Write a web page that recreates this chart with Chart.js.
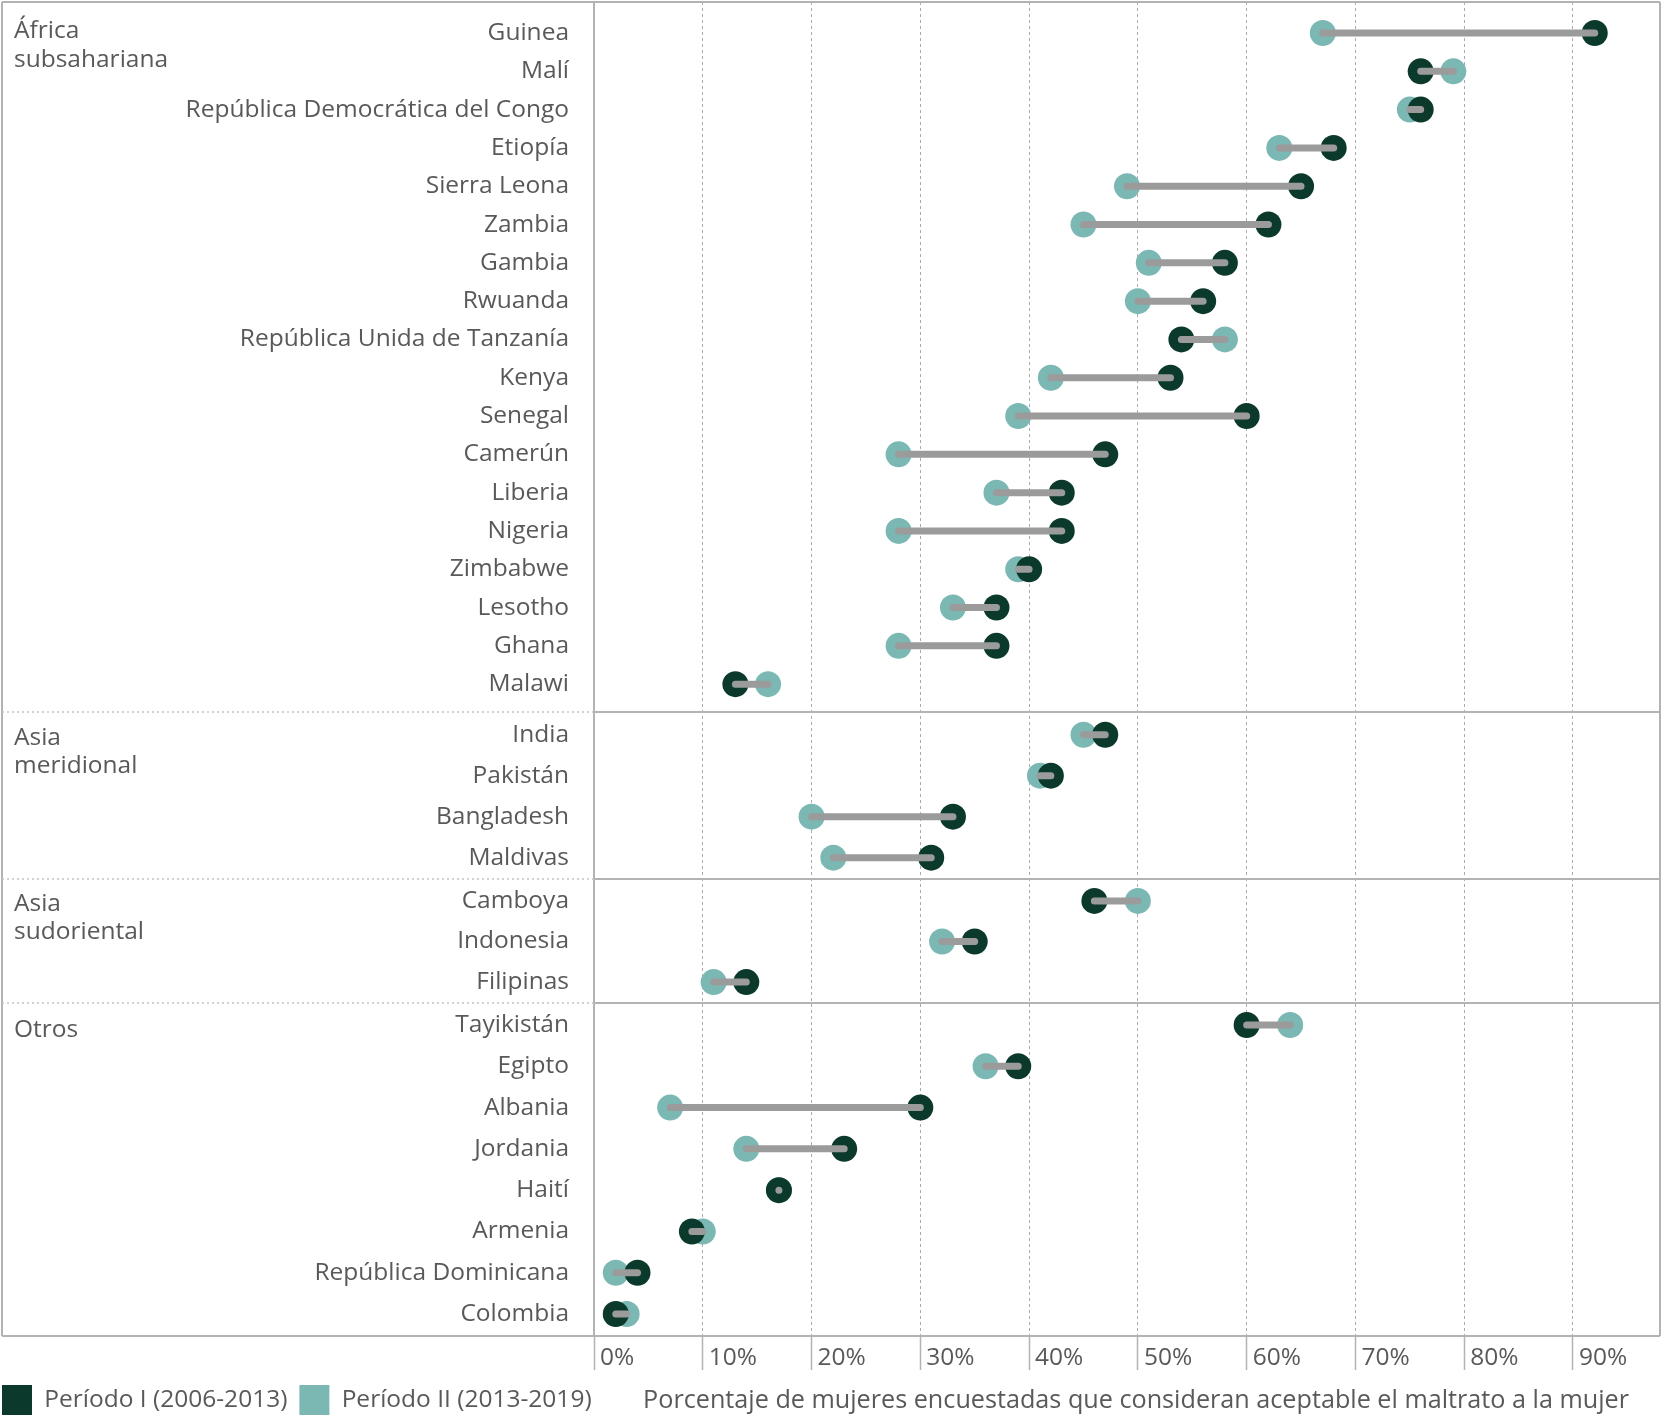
<!DOCTYPE html>
<html lang="es">
<head>
<meta charset="utf-8">
<script src="https://cdn.jsdelivr.net/npm/chart.js@4.4.1/dist/chart.umd.min.js"></script>
<style>
  html, body { margin: 0; padding: 0; background: #fff; }
  #wrap { position: relative; width: 1662px; height: 1417px; }
</style>
</head>
<body>
<div id="wrap"><canvas id="myChart" width="1662" height="1417"></canvas></div>
<script>
// --- data ---
const regions = [['África', 'subsahariana'], ['Asia', 'meridional'], ['Asia', 'sudoriental'], ['Otros']];
const regionSizes = [18, 4, 3, 8];

const countries = [
    'Guinea', 'Malí', 'República Democrática del Congo', 'Etiopía', 'Sierra Leona', 'Zambia',
    'Gambia', 'Rwuanda', 'República Unida de Tanzanía', 'Kenya', 'Senegal', 'Camerún',
    'Liberia', 'Nigeria', 'Zimbabwe', 'Lesotho', 'Ghana', 'Malawi',
    'India', 'Pakistán', 'Bangladesh', 'Maldivas',
    'Camboya', 'Indonesia', 'Filipinas',
    'Tayikistán', 'Egipto', 'Albania', 'Jordania', 'Haití', 'Armenia', 'República Dominicana', 'Colombia'
];

// Período I (2006-2013)
const period1 = [
    92, 76, 76, 68, 65, 62, 58, 56, 54, 53, 60, 47, 43, 43, 40, 37, 37, 13,
    47, 42, 33, 31,
    46, 35, 14,
    60, 39, 30, 23, 17, 9, 4, 2
];

// Período II (2013-2019)
const period2 = [
    67, 79, 75, 63, 49, 45, 51, 50, 58, 42, 39, 28, 37, 28, 39, 33, 28, 16,
    45, 41, 20, 22,
    50, 32, 11,
    64, 36, 7, 14, 17, 10, 2, 3
];

const xTicks = [0, 10, 20, 30, 40, 50, 60, 70, 80, 90];
const legendLabels = ['Período I (2006-2013)', 'Período II (2013-2019)'];
const axisTitle = 'Porcentaje de mujeres encuestadas que consideran aceptable el maltrato a la mujer';

// --- layout (row slots on the y axis, one unit = one África row) ---
const sectionLayout = [
    { top: 0, first: 0.81, step: 1, labelShift: -2 },
    { top: 18.54, first: 19.13, step: 1.07, labelShift: 3 },
    { top: 22.90, first: 23.47, step: 1.06, labelShift: 3 },
    { top: 26.14, first: 26.71, step: 1.078, labelShift: 5 }
];
const yMax = 34.83;
const xMax = 98;

const COLOR_P1 = '#0b3a2c';
const COLOR_P2 = '#7bb8b3';
const COLOR_LINK = '#9b9b9b';
const COLOR_TEXT = '#595959';
const COLOR_FRAME = '#b3b3b3';
const FONT_SIZE = 24.5;
const FONT = `400 ${FONT_SIZE}px 'Open Sans', 'Noto Sans', sans-serif`;
const TITLE_FONT = "400 25.2px 'Open Sans', 'Noto Sans', sans-serif";

const rowY = [];
const regionFirstRow = [];
regionSizes.forEach((n, r) => {
    regionFirstRow.push(rowY.length);
    for (let j = 0; j < n; j++) {
        rowY.push(sectionLayout[r].first + j * sectionLayout[r].step);
    }
});

const linkData = [];
countries.forEach((c, i) => {
    linkData.push({ x: period2[i], y: rowY[i] });
    linkData.push({ x: period1[i], y: rowY[i] });
    linkData.push({ x: null, y: null });
});

Chart.defaults.font.family = "'Open Sans', 'Noto Sans', sans-serif";
Chart.defaults.font.size = FONT_SIZE;
Chart.defaults.font.weight = '400';
Chart.defaults.color = COLOR_TEXT;

const framePlugin = {
    id: 'frame',
    beforeDatasetsDraw(chart) {
        const { ctx, chartArea: a, scales: { y } } = chart;
        const outerLeft = 2;
        ctx.save();
        ctx.strokeStyle = COLOR_FRAME;
        ctx.lineWidth = 2;
        ctx.beginPath();
        ctx.moveTo(outerLeft, a.top); ctx.lineTo(a.right, a.top);
        ctx.moveTo(outerLeft, a.bottom); ctx.lineTo(a.right, a.bottom);
        ctx.moveTo(outerLeft, a.top); ctx.lineTo(outerLeft, a.bottom);
        ctx.moveTo(a.right, a.top); ctx.lineTo(a.right, a.bottom);
        ctx.moveTo(a.left, a.top); ctx.lineTo(a.left, a.bottom);
        sectionLayout.slice(1).forEach(s => {
            const py = Math.round(y.getPixelForValue(s.top));
            ctx.moveTo(a.left, py); ctx.lineTo(a.right, py);
        });
        ctx.stroke();

        ctx.lineWidth = 1.5;
        ctx.strokeStyle = '#c4c4c4';
        ctx.setLineDash([2, 3]);
        ctx.beginPath();
        sectionLayout.slice(1).forEach(s => {
            const py = Math.round(y.getPixelForValue(s.top));
            ctx.moveTo(outerLeft, py); ctx.lineTo(a.left, py);
        });
        ctx.stroke();
        ctx.setLineDash([]);

        // region names
        ctx.font = FONT;
        ctx.fillStyle = COLOR_TEXT;
        ctx.textAlign = 'left';
        ctx.textBaseline = 'middle';
        regions.forEach((lines, r) => {
            const py = y.getPixelForValue(rowY[regionFirstRow[r]]) + sectionLayout[r].labelShift;
            lines.forEach((t, k) => ctx.fillText(t, 14, py + k * 28.6));
        });

        // axis title
        ctx.font = TITLE_FONT;
        ctx.textAlign = 'right';
        ctx.fillText(axisTitle, 1629, 1401);
        ctx.restore();
    }
};

const ctx = document.getElementById('myChart').getContext('2d');
new Chart(ctx, {
    type: 'scatter',
    data: {
        datasets: [
            {
                label: 'link',
                data: linkData,
                showLine: true,
                spanGaps: false,
                borderColor: COLOR_LINK,
                backgroundColor: COLOR_LINK,
                borderWidth: 7,
                borderCapStyle: 'round',
                pointRadius: 0,
                pointHoverRadius: 0,
                order: 0
            },
            {
                label: legendLabels[0],
                data: period1.map((v, i) => ({ x: v, y: rowY[i] })),
                backgroundColor: COLOR_P1,
                borderColor: COLOR_P1,
                borderWidth: 0,
                pointRadius: 13,
                pointBorderWidth: 0,
                order: 1
            },
            {
                label: legendLabels[1],
                data: period2.map((v, i) => ({ x: v, y: rowY[i] })),
                backgroundColor: COLOR_P2,
                borderColor: COLOR_P2,
                borderWidth: 0,
                pointRadius: 13,
                pointBorderWidth: 0,
                order: 2
            }
        ]
    },
    options: {
        responsive: false,
        animation: false,
        events: [],
        layout: { autoPadding: false, padding: { left: -10, right: 2, top: 2, bottom: -8 } },
        plugins: {
            tooltip: { enabled: false },
            legend: {
                position: 'bottom',
                align: 'start',
                labels: {
                    boxWidth: 30,
                    boxHeight: 30,
                    padding: 12,
                    color: COLOR_TEXT,
                    font: { size: FONT_SIZE, weight: '400' },
                    filter: item => item.datasetIndex !== 0
                }
            }
        },
        scales: {
            x: {
                type: 'linear',
                min: 0,
                max: xMax,
                afterBuildTicks: axis => { axis.ticks = xTicks.map(v => ({ value: v })); },
                afterFit: axis => { axis.height = 37; axis.paddingLeft = 0; axis.paddingRight = 0; },
                ticks: {
                    align: 'start',
                    labelOffset: 6,
                    padding: -27,
                    maxRotation: 0,
                    autoSkip: false,
                    color: COLOR_TEXT,
                    callback: v => v + '%'
                },
                grid: {
                    color: c => (c.tick && c.tick.value === 0) ? 'rgba(0,0,0,0)' : '#ababab',
                    lineWidth: 1,
                    tickLength: 34,
                    tickColor: COLOR_FRAME,
                    tickWidth: 1.5,
                    tickBorderDash: []
                },
                border: { display: false, dash: [3, 3] }
            },
            y: {
                type: 'linear',
                reverse: true,
                min: 0,
                max: yMax,
                afterBuildTicks: axis => { axis.ticks = rowY.map(v => ({ value: v })); },
                afterFit: axis => { axis.width = 604; axis.paddingTop = 0; axis.paddingBottom = 0; },
                ticks: {
                    autoSkip: false,
                    padding: 25,
                    color: COLOR_TEXT,
                    callback: (v, i) => countries[rowY.indexOf(v)] ?? countries[i]
                },
                grid: { display: false, drawTicks: false },
                border: { display: false }
            }
        }
    },
    plugins: [framePlugin]
});
</script>
</body>
</html>
